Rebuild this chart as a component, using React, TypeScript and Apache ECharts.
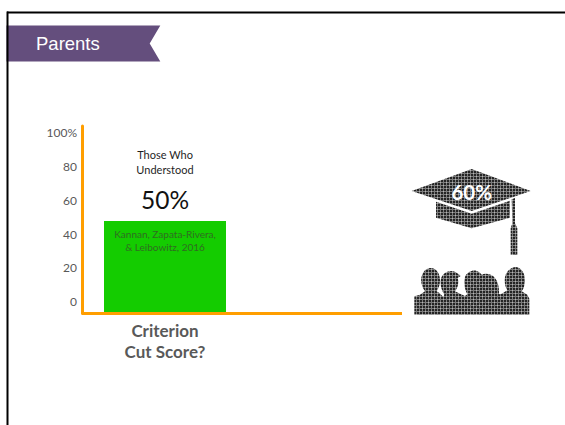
import React, { useEffect, useRef } from "react";
import * as echarts from "echarts";

const categories = ["Criterion\nCut Score?", ""];
const understoodValues = [54.7, null];
const yTicks = [0, 20, 40, 60, 80, 100];
const bannerTitle = "Parents";
const calloutLines = "Those Who\nUnderstood";
const calloutValue = "50%";
const sourceNote = "Kannan, Zapata-Rivera,\n& Leibowitz, 2016";
const iconValue = "60%";

const FONT = "Lato, Carlito, 'Noto Sans', sans-serif";
const ORANGE = "#FF9E00";

// Icon outlines, traced at 3x from the picture and offset to page position.
const toPx = (d: string, ox: number, oy: number) =>
  d.replace(/(-?[\d.]+),(-?[\d.]+)/g, (_, a, b) =>
    `${(ox + Number(a) / 3).toFixed(2)},${(oy + Number(b) / 3).toFixed(2)}`
  );

const hatD = toPx(
  "M5,78 L185,12 L362,78 L185,138 Z " +
    "M78,110 L185,146 L300,107 L300,158 L185,190 L78,158 Z " +
    "M305,103 L315,99 L315,175 L322,190 L322,270 L302,270 L302,190 L307,175 Z",
  410,
  165
);
const peopleD = toPx(
  "M13,158 L13,103 L30,98 L45,88 C35,75 30,55 36,40 C42,22 55,17 65,18 C80,20 90,35 90,55 " +
    "C90,70 85,80 80,88 L88,93 L100,105 L103,98 C95,85 90,70 92,55 C95,35 110,27 125,27 " +
    "C135,28 145,35 152,42 L143,48 C147,60 145,75 135,88 L150,95 L165,102 L172,97 " +
    "C165,85 160,65 165,45 C170,30 190,22 200,27 C208,30 212,35 215,38 C225,33 245,35 255,48 " +
    "C265,60 268,80 267,97 L275,95 L292,85 C285,75 283,60 285,45 C290,25 305,15 318,15 " +
    "C335,17 345,35 345,55 C345,70 340,82 335,88 L352,98 L358,110 L358,158 Z",
  410,
  262
);
echarts.graphic.registerShape("gradHat", echarts.graphic.extendPath(hatD, {}));
echarts.graphic.registerShape("gradPeople", echarts.graphic.extendPath(peopleD, {}));

function halftone() {
  const c = document.createElement("canvas");
  c.width = 6;
  c.height = 6;
  const g = c.getContext("2d")!;
  g.fillStyle = "#7c7c7c";
  g.fillRect(0, 0, 6, 6);
  g.fillStyle = "#242424";
  g.fillRect(0, 0, 2, 2);
  g.fillRect(3, 0, 2, 2);
  g.fillRect(0, 3, 2, 2);
  g.fillRect(3, 3, 2, 2);
  g.fillStyle = "#b4b4b4";
  g.fillRect(2, 2, 1, 1);
  g.fillRect(5, 5, 1, 1);
  return c;
}

export default function App() {
  const ref = useRef<HTMLDivElement>(null);
  useEffect(() => {
    const chart = echarts.init(ref.current!, null, { renderer: "svg" });
    const pattern = { image: halftone(), repeat: "repeat" };
    chart.setOption({
      animation: false,
      backgroundColor: "#fff",
      grid: { left: 82, top: 126, width: 332, height: 187.5 },
      xAxis: {
        type: "category",
        data: categories,
        axisLine: { show: false },
        axisTick: { show: false },
        axisLabel: {
          interval: 0,
          margin: 6,
          fontFamily: FONT,
          fontWeight: "bold",
          fontSize: 17,
          lineHeight: 21,
          color: "#595959",
        },
      },
      yAxis: {
        type: "value",
        min: 0,
        max: 111,
        interval: 20,
        splitLine: { show: false },
        axisTick: { show: false },
        axisLine: { show: true, onZero: false, lineStyle: { color: ORANGE, width: 3 } },
        axisLabel: {
          customValues: yTicks,
          margin: 5,
          fontFamily: FONT,
          fontSize: 12,
          color: "#595959",
          verticalAlign: "bottom",
          lineHeight: 23.6,
          formatter: (v: number) => (v === 100 ? "100%" : String(v)),
        },
      },
      series: [
        {
          type: "bar",
          data: understoodValues,
          barWidth: 122,
          itemStyle: { color: "#14CC00" },
          silent: true,
        },
      ],
      graphic: [
        {
          type: "rect",
          z: 1,
          shape: { x: 7, y: 11.5, width: 558, height: 2 },
          style: { fill: "#000" },
        },
        {
          type: "rect",
          z: 1,
          shape: { x: 6.5, y: 11.5, width: 2, height: 413.5 },
          style: { fill: "#000" },
        },
        {
          type: "polygon",
          z: 0,
          shape: { points: [[6.5, 25.5], [160.3, 25.5], [149.7, 43.5], [160.3, 61.5], [6.5, 61.5]] },
          style: { fill: "#5F4879", opacity: 0.97 },
        },
        {
          type: "text",
          z: 5,
          x: 36,
          y: 43.5,
          style: {
            text: bannerTitle,
            fill: "#fff",
            font: "18.5px 'Liberation Sans', Arial, sans-serif",
            verticalAlign: "middle",
          },
        },
        {
          type: "rect",
          z: 5,
          shape: { x: 82, y: 312, width: 320, height: 3 },
          style: { fill: ORANGE },
        },
        {
          type: "text",
          z: 5,
          x: 165,
          y: 161.5,
          style: {
            text: calloutLines,
            fill: "#1f1f1f",
            font: `11px ${FONT}`,
            lineHeight: 15,
            align: "center",
            verticalAlign: "middle",
          },
        },
        {
          type: "text",
          z: 5,
          x: 165,
          y: 199,
          style: {
            text: calloutValue,
            fill: "#111",
            font: `24.5px ${FONT}`,
            align: "center",
            verticalAlign: "middle",
          },
        },
        {
          type: "text",
          z: 5,
          x: 165,
          y: 240.5,
          style: {
            text: sourceNote,
            fill: "#2f6e20",
            font: `10px ${FONT}`,
            lineHeight: 13,
            align: "center",
            verticalAlign: "middle",
          },
        },
        { type: "gradHat", z: 3, style: { fill: pattern } },
        { type: "gradPeople", z: 3, style: { fill: pattern } },
        {
          type: "text",
          z: 5,
          x: 471.7,
          y: 191.5,
          style: {
            text: iconValue,
            fill: "#fff",
            font: `bold 20.5px ${FONT}`,
            align: "center",
            verticalAlign: "middle",
          },
        },
      ],
    });
    return () => chart.dispose();
  }, []);
  return (
    <div
      ref={ref}
      style={{ position: "fixed", left: 0, top: 0, width: 565, height: 425 }}
    />
  );
}
